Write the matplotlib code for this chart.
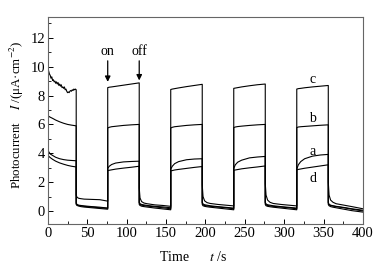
import matplotlib
matplotlib.use("Agg")
import matplotlib.pyplot as plt
from matplotlib.ticker import MultipleLocator

plt.rcParams['font.family'] = ['Liberation Serif', 'DejaVu Serif']
plt.rcParams['font.size'] = 10
plt.rcParams['mathtext.fontset'] = 'stix'

# switching times (s)
off_times = [36, 116, 196, 276, 356]
on_times = [76, 156, 236, 316]
light_offsets = [0, 2, 5, 10, 20, 30, 40]
dark_offsets = [0, 1, 3, 6, 10, 20, 30, 40]
dark_offsets_last = [0, 1, 3, 6, 10, 20, 30, 44]

# initial illuminated segment
t0 = [0, 3, 6, 10, 15, 20, 25, 30, 36]
t0_c = [0, 1, 2, 3, 4, 5, 6, 7, 8, 9, 10, 11, 12, 13, 14, 15, 16, 17, 18,
        19, 20, 21, 22, 23, 24, 25, 26, 27, 28, 29, 30, 31, 32, 33, 34, 35, 36]

init_a = [4.2, 3.95, 3.85, 3.72, 3.62, 3.56, 3.52, 3.5, 3.48]
init_b = [6.6, 6.5, 6.42, 6.3, 6.18, 6.08, 6.0, 5.95, 5.9]
init_c = [9.95, 9.7, 9.5, 9.4, 9.2, 9.3, 9.05, 9.1, 8.95, 9.0, 8.85, 8.95, 8.8,
          8.9, 8.7, 8.8, 8.65, 8.75, 8.55, 8.6, 8.5, 8.6, 8.4, 8.45, 8.3, 8.2,
          8.25, 8.2, 8.3, 8.35, 8.3, 8.4, 8.35, 8.45, 8.4, 8.45, 8.4]
init_d = [3.85, 3.7, 3.58, 3.45, 3.33, 3.24, 3.16, 3.1, 3.05]

# light-on cycles (values at light_offsets)
light_a = [[2.95, 3.1, 3.22, 3.32, 3.4, 3.43, 3.45],
           [2.9, 3.1, 3.28, 3.42, 3.55, 3.6, 3.62],
           [2.95, 3.2, 3.38, 3.52, 3.68, 3.74, 3.78],
           [2.9, 3.2, 3.42, 3.62, 3.8, 3.88, 3.92]]
light_b = [[5.75, 5.8, 5.84, 5.87, 5.93, 5.97, 6.0],
           [5.75, 5.8, 5.84, 5.87, 5.93, 5.97, 6.0],
           [5.78, 5.82, 5.85, 5.88, 5.93, 5.97, 6.0],
           [5.78, 5.82, 5.84, 5.86, 5.9, 5.94, 5.97]]
light_c = [[8.55, 8.58, 8.6, 8.64, 8.72, 8.8, 8.88],
           [8.42, 8.45, 8.48, 8.53, 8.62, 8.7, 8.78],
           [8.5, 8.52, 8.55, 8.6, 8.68, 8.75, 8.8],
           [8.45, 8.48, 8.5, 8.54, 8.6, 8.65, 8.7]]
light_d = [[2.8, 2.82, 2.85, 2.9, 2.97, 3.03, 3.1],
           [2.78, 2.8, 2.84, 2.88, 2.95, 3.02, 3.08],
           [2.82, 2.84, 2.87, 2.92, 2.99, 3.05, 3.12],
           [2.85, 2.88, 2.91, 2.96, 3.04, 3.12, 3.2]]

# light-off (dark) cycles (values at dark_offsets)
dark_a = [[0.55, 0.45, 0.4, 0.38, 0.35, 0.3, 0.26, 0.2],
          [1.6, 0.9, 0.65, 0.55, 0.5, 0.42, 0.38, 0.32],
          [1.8, 1.0, 0.7, 0.58, 0.52, 0.45, 0.4, 0.35],
          [1.9, 1.1, 0.75, 0.6, 0.52, 0.45, 0.4, 0.35],
          [2.0, 1.1, 0.75, 0.6, 0.5, 0.4, 0.3, 0.15]]
dark_b = [[0.5, 0.42, 0.38, 0.35, 0.32, 0.27, 0.22, 0.18],
          [0.55, 0.45, 0.4, 0.37, 0.34, 0.28, 0.22, 0.15],
          [0.55, 0.42, 0.38, 0.35, 0.32, 0.27, 0.22, 0.15],
          [0.55, 0.42, 0.38, 0.35, 0.32, 0.27, 0.22, 0.15],
          [0.55, 0.42, 0.38, 0.34, 0.3, 0.22, 0.12, 0.0]]
dark_c = [[1.1, 0.95, 0.88, 0.85, 0.82, 0.8, 0.78, 0.68],
          [0.6, 0.5, 0.45, 0.42, 0.38, 0.32, 0.28, 0.22],
          [0.6, 0.48, 0.43, 0.4, 0.36, 0.3, 0.25, 0.2],
          [0.6, 0.48, 0.43, 0.4, 0.36, 0.3, 0.25, 0.2],
          [0.6, 0.45, 0.4, 0.36, 0.32, 0.24, 0.15, 0.05]]
dark_d = [[0.45, 0.38, 0.34, 0.3, 0.27, 0.22, 0.17, 0.12],
          [0.45, 0.38, 0.33, 0.3, 0.27, 0.2, 0.14, 0.08],
          [0.45, 0.36, 0.32, 0.29, 0.26, 0.2, 0.14, 0.08],
          [0.45, 0.36, 0.32, 0.29, 0.26, 0.2, 0.14, 0.08],
          [0.45, 0.36, 0.3, 0.26, 0.22, 0.12, 0.02, -0.08]]

curves = {
    'a': (t0, init_a, light_a, dark_a),
    'b': (t0, init_b, light_b, dark_b),
    'c': (t0_c, init_c, light_c, dark_c),
    'd': (t0, init_d, light_d, dark_d),
}


def build(tinit, init, light, dark):
    xs = list(tinit)
    ys = list(init)
    for i, toff in enumerate(off_times):
        offs = dark_offsets_last if i == len(off_times) - 1 else dark_offsets
        xs += [toff + o for o in offs]
        ys += dark[i]
        if i < len(on_times):
            xs += [on_times[i] + o for o in light_offsets]
            ys += light[i]
    return xs, ys


fig = plt.figure(figsize=(3.89, 2.65), dpi=100)
ax = fig.add_axes([0.123, 0.155, 0.81, 0.781])

for name, (tt, ini, li, da) in curves.items():
    xs, ys = build(tt, ini, li, da)
    ax.plot(xs, ys, color='black', lw=0.8)

ax.set_xlim(0, 400)
ax.set_ylim(-0.9, 13.45)
ax.xaxis.set_major_locator(MultipleLocator(50))
ax.xaxis.set_minor_locator(MultipleLocator(25))
ax.yaxis.set_major_locator(MultipleLocator(2))
ax.yaxis.set_minor_locator(MultipleLocator(1))
ax.tick_params(which='both', direction='in', top=False, right=False, pad=2,
               labelsize=10.5)
ax.tick_params(which='major', length=3.5, width=0.7)
ax.tick_params(which='minor', length=2, width=0.6)
for s in ax.spines.values():
    s.set_color('#666666')
    s.set_linewidth(0.8)

ax.set_xlabel('Time      $t$ /s', labelpad=3)
ax.xaxis.set_label_coords(0.462, -0.125)
ax.set_ylabel('Photocurrent    $I$ /(μA·cm$^{-2}$)', fontsize=9.3)
ax.yaxis.set_label_coords(-0.068, 0.525)

ax.annotate('on', xy=(76, 8.95), xytext=(76, 10.6), ha='center', va='bottom',
            arrowprops=dict(arrowstyle='-|>', color='black', lw=0.9,
                            mutation_scale=8, shrinkA=0, shrinkB=0))
ax.annotate('off', xy=(116, 9.05), xytext=(116, 10.6), ha='center', va='bottom',
            arrowprops=dict(arrowstyle='-|>', color='black', lw=0.9,
                            mutation_scale=8, shrinkA=0, shrinkB=0))

ax.text(336, 9.1, 'c', ha='center', va='center')
ax.text(336, 6.4, 'b', ha='center', va='center')
ax.text(336, 4.15, 'a', ha='center', va='center')
ax.text(336, 2.25, 'd', ha='center', va='center')

fig.savefig('out.png', dpi=100)
